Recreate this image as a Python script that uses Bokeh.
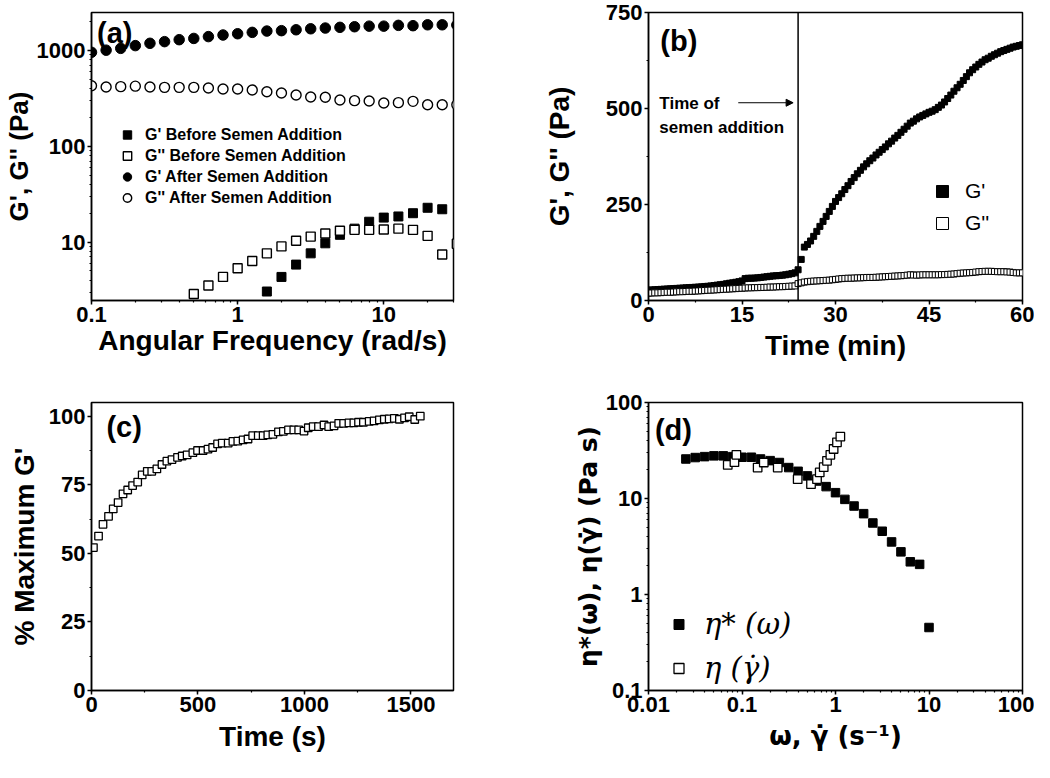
from bokeh.plotting import figure
from bokeh.layouts import gridplot
from bokeh.models import (Span, Arrow, NormalHead, Label, Legend, LegendItem,
                          SingleIntervalTicker, CustomJSTickFormatter, Range1d)
from bokeh.embed import file_html
from bokeh.resources import INLINE

# ---------------- data ----------------
# (a) frequency sweeps
freq_after = [0.1, 0.1259, 0.1585, 0.1995, 0.2512, 0.3162, 0.3981, 0.5012, 0.631, 0.7943,
              1.0, 1.259, 1.585, 1.995, 2.512, 3.162, 3.981, 5.012, 6.31, 7.943,
              10.0, 12.59, 15.85, 19.95, 25.12, 31.62]
gp_after = [960, 1010, 1055, 1127, 1192, 1240, 1300, 1340, 1400, 1455,
            1500, 1550, 1600, 1615, 1650, 1690, 1720, 1750, 1775, 1800,
            1800, 1835, 1820, 1860, 1860, 1850]
gpp_after = [430, 416, 420, 425, 416, 413, 413, 413, 406, 397,
             397, 387, 372, 360, 343, 327, 325, 305, 300, 297,
             283, 286, 295, 272, 272, 272]
freq_gp_before = [1.585, 1.995, 2.512, 3.162, 3.981, 5.012, 6.31, 7.943, 10.0, 12.59, 15.85, 19.95, 25.12]
gp_before = [3.04, 4.32, 5.81, 7.62, 9.7, 11.9, 13.8, 16.3, 18.0, 18.5, 20.0, 22.8, 22.0]
freq_gpp_before = [0.5012, 0.631, 0.7943, 1.0, 1.259, 1.585, 1.995, 2.512, 3.162, 3.981,
                   5.012, 6.31, 7.943, 10.0, 12.59, 15.85, 19.95, 25.12, 31.62]
gpp_before = [2.86, 3.52, 4.32, 5.32, 6.34, 7.62, 9.0, 10.3, 11.4, 12.3,
              13.1, 13.4, 13.4, 13.5, 13.8, 13.4, 11.6, 7.4, 9.6]

# (b) time sweep (min)
time_b = [0.0, 0.5, 1.0, 1.5, 2.0, 2.5, 3.0, 3.5, 4.0, 4.5, 5.0, 5.5, 6.0, 6.5, 7.0, 7.5,
          8.0, 8.5, 9.0, 9.5, 10.0, 10.5, 11.0, 11.5, 12.0, 12.5, 13.0, 13.5, 14.0, 14.5,
          15.0, 15.5, 16.0, 16.5, 17.0, 17.5, 18.0, 18.5, 19.0, 19.5, 20.0, 20.5, 21.0,
          21.5, 22.0, 22.5, 23.0, 23.5, 24.0, 24.5, 25.0, 25.5, 26.0, 26.5, 27.0, 27.5,
          28.0, 28.5, 29.0, 29.5, 30.0, 30.5, 31.0, 31.5, 32.0, 32.5, 33.0, 33.5, 34.0,
          34.5, 35.0, 35.5, 36.0, 36.5, 37.0, 37.5, 38.0, 38.5, 39.0, 39.5, 40.0, 40.5,
          41.0, 41.5, 42.0, 42.5, 43.0, 43.5, 44.0, 44.5, 45.0, 45.5, 46.0, 46.5, 47.0,
          47.5, 48.0, 48.5, 49.0, 49.5, 50.0, 50.5, 51.0, 51.5, 52.0, 52.5, 53.0, 53.5,
          54.0, 54.5, 55.0, 55.5, 56.0, 56.5, 57.0, 57.5, 58.0, 58.5, 59.0, 59.5, 60.0]
gp_time = [27, 27.5, 28, 28.5, 29, 29.5, 30, 30.5, 31, 31.5, 32, 32.5, 33, 33.5, 34, 34.5,
           35, 35.5, 36.5, 37, 38, 39, 40, 41, 42, 43.5, 45, 46, 47.5, 49, 51, 57, 58, 58,
           58.5, 59, 60, 61, 62, 63, 64, 64.5, 65, 66, 67, 68.5, 70, 72,
           80, 107, 139, 146, 155, 167, 180, 193, 206, 219, 232, 245, 258, 268, 278, 289,
           299, 310, 320, 330, 339, 348, 356, 364, 371, 379, 386, 393, 400, 408, 415, 423,
           430, 438, 446, 454, 462, 467, 473, 478, 482, 486, 490, 493, 497, 503, 509, 517,
           526, 535, 545, 554, 563, 573, 583, 593, 601, 608, 615, 621, 627, 631, 636, 640,
           644, 648, 651, 654, 657, 660, 662, 664, 666]
gpp_time = [19, 19.5, 20, 20, 20.5, 21, 21.5, 21.5, 22, 22.5, 23, 23, 23.5, 24, 24, 24.5,
            25, 25.5, 26, 26.5, 27, 27.5, 28, 28.5, 29, 29.5, 30, 30.5, 31, 31.5, 32, 32.5,
            33, 33, 33.5, 33.5, 34, 34, 34.5, 35, 35, 35.5, 36, 36, 36.5, 37, 37.5, 38,
            44, 46, 48, 49, 50, 50.5, 51, 51.5, 52, 52.5, 53, 54, 55, 56, 57, 57.5, 58, 58,
            58.5, 59, 59, 59.5, 60, 60, 60, 60.5, 61, 61.5, 62, 62.5, 63, 63.5, 64, 64.5,
            65, 66, 67, 66.5, 66, 66.5, 67, 67, 67, 67, 67, 67, 67.5, 67.5, 68, 68.5, 69,
            70, 71, 71.5, 72, 72.5, 73, 74, 75, 75.5, 76, 76, 76, 75.5, 75, 75, 75, 74.5,
            74, 73, 72, 72, 72]
addition_time = 24

# (c) % maximum G'
time_c = [9, 33, 54, 80, 102, 125, 148, 170, 193, 217, 238, 262, 283, 307, 331, 354, 378,
          404, 426, 449, 476, 498, 524, 547, 569, 592, 614, 642, 664, 687, 712, 735, 757,
          783, 806, 828, 852, 878, 901, 925, 950, 973, 998, 1018, 1041, 1066, 1092, 1114,
          1139, 1161, 1184, 1209, 1232, 1254, 1277, 1304, 1327, 1352, 1375, 1398, 1422,
          1446, 1470, 1492, 1518, 1544]
pct_max = [52.1, 56.3, 60.6, 63.5, 66.2, 68.5, 71.7, 73.1, 74.7, 76.0, 78.6, 79.9, 79.9,
           80.8, 82.4, 83.6, 84.2, 85.0, 85.5, 85.9, 86.7, 87.5, 87.5, 88.0, 88.6, 89.9,
           90.2, 90.2, 90.8, 90.9, 91.4, 91.7, 92.9, 92.9, 92.9, 93.2, 93.4, 94.3, 94.5,
           95.0, 95.0, 95.0, 94.6, 95.8, 96.2, 96.2, 96.8, 96.2, 96.5, 97.4, 97.4, 97.6,
           97.6, 97.8, 97.8, 98.1, 98.3, 98.7, 98.9, 99.0, 99.2, 98.9, 99.4, 99.8, 98.8, 100.0]

# (d) viscosities
omega = [0.0251, 0.0316, 0.0398, 0.0501, 0.0631, 0.0794, 0.1, 0.126, 0.158, 0.2, 0.251,
         0.316, 0.398, 0.501, 0.631, 0.794, 1.0, 1.26, 1.58, 2.0, 2.51, 3.16, 3.98, 5.01,
         6.31, 7.94, 10.0]
eta_star = [25.8, 26.7, 27.3, 27.8, 27.8, 27.3, 26.9, 26.9, 25.8, 24.8, 23.7, 21.0, 19.2,
            17.2, 15.2, 13.3, 11.5, 9.79, 8.35, 6.95, 5.56, 4.56, 3.53, 2.78, 2.19, 2.06, 0.453]
shear_rate = [0.0704, 0.083, 0.0871, 0.147, 0.171, 0.241, 0.394, 0.547, 0.634, 0.678,
              0.748, 0.811, 0.881, 0.955, 1.037, 1.127]
eta_shear = [22.4, 23.9, 28.5, 21.0, 23.7, 21.0, 15.9, 14.1, 15.9, 18.7, 21.2, 24.7, 28.5,
             32.8, 38.5, 44.1]

# ---------------- styling helpers ----------------
FONT = "Liberation Sans"
fmt_code = "return String(Number(tick.toPrecision(6)));"


def style(p, xlabel, ylabel, xl_standoff, yl_standoff, ylabel_size="28px"):
    p.xgrid.visible = False
    p.ygrid.visible = False
    p.outline_line_color = "black"
    p.outline_line_width = 1.5
    p.outline_line_alpha = 1.0
    p.background_fill_color = "white"
    p.border_fill_color = "white"
    for ax in (p.xaxis[0], p.yaxis[0]):
        ax.axis_line_width = 1.5
        ax.major_tick_in = 0
        ax.major_tick_out = 4
        ax.minor_tick_in = 0
        ax.minor_tick_out = 2
        ax.major_tick_line_width = 1.5
        ax.minor_tick_line_width = 1.2
        ax.major_label_standoff = 2
        ax.major_label_text_font = FONT
        ax.major_label_text_font_size = "22px"
        ax.major_label_text_font_style = "bold"
        ax.major_label_text_color = "black"
        ax.axis_label_text_font = FONT
        ax.axis_label_text_font_style = "bold"
        ax.axis_label_text_color = "black"
        ax.axis_label_text_font_size = "28px"
    p.xaxis[0].axis_label = xlabel
    p.yaxis[0].axis_label = ylabel
    p.xaxis[0].axis_label_standoff = xl_standoff
    p.yaxis[0].axis_label_standoff = yl_standoff
    p.yaxis[0].axis_label_text_font_size = ylabel_size


def panel_label(p, x, y, text):
    p.add_layout(Label(x=x, y=y, text=text, text_font=FONT, text_font_size="29px",
                       text_font_style="bold", text_baseline="top", text_align="left",
                       text_color="black"))


def plain_legend(items, loc, gw, gh, font_size, standoff, font=FONT, fstyle="bold"):
    return Legend(items=items, location=loc, padding=0, margin=0, spacing=0,
                  glyph_width=gw, glyph_height=gh, label_height=gh,
                  label_standoff=standoff, border_line_alpha=0, background_fill_alpha=0,
                  label_text_font=font, label_text_font_size=font_size,
                  label_text_font_style=fstyle, label_text_color="black")


# ---------------- (a) ----------------
pa = figure(width=520, height=380, x_axis_type="log", y_axis_type="log",
            x_range=Range1d(0.1, 30), y_range=Range1d(2.45, 2500),
            min_border_left=84, min_border_right=67, min_border_top=12, min_border_bottom=80,
            output_backend="svg", toolbar_location=None)
r1 = pa.scatter(freq_gp_before, gp_before, marker="square", size=9, fill_color="black", line_color="black")
r2 = pa.scatter(freq_gpp_before, gpp_before, marker="square", size=9, fill_color="white",
                line_color="black", line_width=1.4)
r3 = pa.scatter(freq_after, gp_after, marker="circle", size=10.5, fill_color="black", line_color="black")
r4 = pa.scatter(freq_after, gpp_after, marker="circle", size=10, fill_color="white",
                line_color="black", line_width=1.4)
style(pa, "Angular Frequency (rad/s)", "G', G'' (Pa)", 0, 0, ylabel_size="26px")
for ax in (pa.xaxis[0], pa.yaxis[0]):
    ax.formatter = CustomJSTickFormatter(code=fmt_code)
pa.add_layout(plain_legend([LegendItem(label="G' Before Semen Addition", renderers=[r1]),
                            LegendItem(label="G'' Before Semen Addition", renderers=[r2]),
                            LegendItem(label="G' After Semen Addition", renderers=[r3]),
                            LegendItem(label="G'' After Semen Addition", renderers=[r4])],
                           (25, 92), 22, 21, "16px", 7))
panel_label(pa, 0.109, 2250, "(a)")

# ---------------- (b) ----------------
pb = figure(width=514, height=380, x_range=Range1d(0, 60), y_range=Range1d(0, 750),
            min_border_left=124, min_border_right=10, min_border_top=12, min_border_bottom=80,
            output_backend="svg", toolbar_location=None)
pb.add_layout(Span(location=addition_time, dimension="height", line_color="black", line_width=1.5))
s1 = pb.scatter(time_b, gp_time, marker="square", size=6, fill_color="black", line_color="black")
s2 = pb.scatter(time_b, gpp_time, marker="square", size=6, fill_color="white",
                line_color="black", line_width=1)
style(pb, "Time (min)", "G', G'' (Pa)", 5, 28)
pb.xaxis[0].ticker = SingleIntervalTicker(interval=15, num_minor_ticks=2)
pb.yaxis[0].ticker = SingleIntervalTicker(interval=250, num_minor_ticks=2)
pb.add_layout(plain_legend([LegendItem(label="G'", renderers=[s1]),
                            LegendItem(label="G''", renderers=[s2])],
                           (279, 61), 30, 32, "21px", 8, fstyle="normal"))
panel_label(pb, 1.9, 718, "(b)")
for txt, yv in (("Time of", 513), ("semen addition", 451)):
    pb.add_layout(Label(x=1.74, y=yv, text=txt, text_font=FONT, text_font_size="17px",
                        text_font_style="bold", text_baseline="middle", text_color="black"))
pb.add_layout(Arrow(end=NormalHead(size=7, fill_color="black", line_color="black"),
                    x_start=14.4, y_start=515, x_end=23.2, y_end=515,
                    line_color="black", line_width=1))

# ---------------- (c) ----------------
pc = figure(width=520, height=382, x_range=Range1d(0, 1700), y_range=Range1d(0, 105),
            min_border_left=84, min_border_right=65, min_border_top=22, min_border_bottom=72,
            output_backend="svg", toolbar_location=None)
pc.scatter(time_c, pct_max, marker="square", size=7.5, fill_color="white",
           line_color="black", line_width=1.3)
style(pc, "Time (s)", "% Maximum G'", 6, 6)
pc.xaxis[0].ticker = SingleIntervalTicker(interval=500, num_minor_ticks=2)
pc.yaxis[0].ticker = SingleIntervalTicker(interval=25, num_minor_ticks=2)
panel_label(pc, 70, 102, "(c)")

# ---------------- (d) ----------------
pd_ = figure(width=514, height=382, x_axis_type="log", y_axis_type="log",
             x_range=Range1d(0.01, 100), y_range=Range1d(0.1, 100),
             min_border_left=128, min_border_right=12, min_border_top=22, min_border_bottom=72,
             output_backend="svg", toolbar_location=None)
d1 = pd_.scatter(omega, eta_star, marker="square", size=8.5, fill_color="black", line_color="black")
d2 = pd_.scatter(shear_rate, eta_shear, marker="square", size=8.5, fill_color="white",
                 line_color="black", line_width=1.3)
style(pd_, "\u03c9, \u03b3\u0307 (s\u207b\u00b9)", "\u03b7*(\u03c9), \u03b7(\u03b3\u0307) (Pa s)", 6, 0)
for ax in (pd_.xaxis[0], pd_.yaxis[0]):
    ax.formatter = CustomJSTickFormatter(code=fmt_code)
    ax.axis_label_text_font = "DejaVu Sans"
pd_.xaxis[0].axis_label_text_font_size = "26px"
pd_.yaxis[0].axis_label_text_font_size = "25px"
pd_.add_layout(plain_legend([LegendItem(label="\u03b7* (\u03c9)", renderers=[d1]),
                             LegendItem(label="\u03b7 (\u03b3\u0307)", renderers=[d2])],
                            (18, 0), 25, 44, "29px", 13, font="DejaVu Serif", fstyle="italic"))
panel_label(pd_, 0.0117, 76, "(d)")

grid = gridplot([[pa, pb], [pc, pd_]], toolbar_location=None)
open("out.html", "w").write(file_html(grid, INLINE))
